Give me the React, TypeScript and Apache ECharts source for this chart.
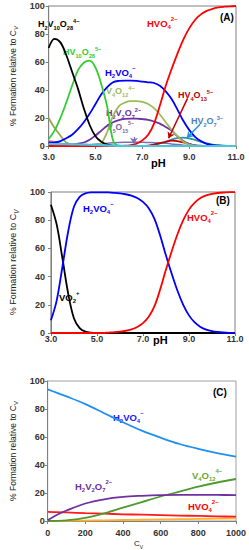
import React, { useEffect, useRef } from "react";
import * as echarts from "echarts";

// pH grid shared by panels A and B (3.0 .. 11.0, step 0.25)
const PH = [3, 3.25, 3.5, 3.75, 4, 4.25, 4.5, 4.75, 5, 5.25, 5.5, 5.75, 6, 6.25, 6.5, 6.75, 7, 7.25, 7.5, 7.75, 8, 8.25, 8.5, 8.75, 9, 9.25, 9.5, 9.75, 10, 10.25, 10.5, 10.75, 11];
const PH_TICKS = [3, 5, 7, 9, 11];

// Panel A
const A_H2V10O28 = [70, 76.5, 74, 65, 53, 41, 27, 15, 7, 3, 1, 0.2, 0, 0, 0, 0, 0, 0, 0, 0, 0, 0, 0, 0, 0, 0, 0, 0, 0, 0, 0, 0, 0];
const A_HV10O28 = [5, 11, 20, 31, 43, 54, 59.5, 61, 56, 44, 28, 4, 0.3, 0, 0, 0, 0, 0, 0, 0, 0, 0, 0, 0, 0, 0, 0, 0, 0, 0, 0, 0, 0];
const A_H2VO4 = [2, 2.5, 3.5, 5.5, 8, 12, 17, 23, 30, 37, 42, 45.5, 46.5, 46.7, 46.7, 46.5, 46, 45.5, 45, 43, 39, 33.5, 26, 18, 11.5, 6.5, 3.5, 1.5, 0.6, 0.2, 0, 0, 0];
const A_HVO4 = [0, 0, 0, 0, 0, 0, 0, 0, 0, 0, 0, 0, 0, 0.2, 0.7, 1.6, 4, 8, 16, 29, 43, 55, 66, 76, 84, 90, 94, 96.5, 98, 99, 99.5, 99.8, 100];
const A_H3V10O28 = [20, 13, 7.5, 2.5, 0.8, 0.2, 0, 0, 0, 0, 0, 0, 0, 0, 0, 0, 0, 0, 0, 0, 0, 0, 0, 0, 0, 0, 0, 0, 0, 0, 0, 0, 0];
const A_V4O12 = [0, 0, 0, 0, 0, 0, 0, 0, 0.3, 2, 10, 21.5, 28.5, 31, 32, 32, 31.5, 30, 27, 22.5, 17, 11.5, 7, 3, 1, 0.3, 0, 0, 0, 0, 0, 0, 0];
const A_H2V2O7 = [3, 2, 1.5, 1.2, 1.2, 1.6, 2.5, 4.5, 7.5, 11, 14.5, 17, 18.5, 19.3, 19.5, 19.5, 19.2, 18.7, 17.5, 16, 13.5, 11, 7, 3.5, 1.5, 0.5, 0, 0, 0, 0, 0, 0, 0];
const A_V5O15 = [0, 0, 0, 0, 0.1, 0.2, 0.4, 0.8, 1.2, 1.6, 2, 2.3, 2.5, 2.6, 2.6, 2.6, 2.6, 2.5, 2.4, 2.2, 1.9, 1.5, 1, 0.6, 0.3, 0.1, 0, 0, 0, 0, 0, 0, 0];
const A_HV4O13 = [0, 0, 0, 0, 0, 0, 0, 0, 0, 0, 0, 0, 0, 0, 0, 0, 0, 0.3, 1, 2, 3, 3.8, 3.5, 2.5, 1.3, 0.5, 0.2, 0, 0, 0, 0, 0, 0];
const A_HV2O7 = [0, 0, 0, 0, 0, 0, 0, 0, 0, 0, 0, 0, 0, 0, 0, 0, 0, 0, 0.8, 1.8, 3, 4.5, 5.6, 6, 5.5, 4.3, 3, 1.8, 1, 0.6, 0.3, 0.1, 0];
const A_PINK = [4, 3, 2, 1.2, 0.6, 0.3, 0.1, 0, 0, 0, 0, 0, 0, 0, 0, 0, 0, 0, 0, 0, 0, 0, 0, 0, 0, 0, 0, 0, 0, 0, 0, 0, 0];
const A_CYAN = [1.5, 1.4, 1.3, 1.25, 1.2, 1.1, 1, 0.9, 0.8, 0.6, 0.4, 0.2, 0.1, 0, 0, 0, 0, 0, 0, 0, 0, 0, 0, 0, 0, 0, 0, 0, 0, 0, 0, 0, 0];

// Panel B
const B_VO2 = [91, 77, 53, 28, 10.5, 3.5, 1, 0.2, 0, 0, 0, 0, 0, 0, 0, 0, 0, 0, 0, 0, 0, 0, 0, 0, 0, 0, 0, 0, 0, 0, 0, 0, 0];
const B_H2VO4 = [9, 23, 47, 72, 89.5, 96.5, 99, 99.7, 99.8, 99.8, 99.7, 99.4, 99, 98.4, 97.4, 95.7, 93, 88.5, 81, 69, 55, 42, 30, 20, 12.5, 7.5, 4.3, 2.4, 1.3, 0.7, 0.35, 0.15, 0.05];
const B_HVO4 = [0, 0, 0, 0, 0, 0, 0, 0, 0, 0, 0.3, 0.6, 1, 1.6, 2.6, 4.3, 7, 11.5, 19, 31, 45, 58, 70, 80, 87.5, 92.5, 95.7, 97.6, 98.7, 99.3, 99.65, 99.85, 99.95];

// Panel C
const CV = [0, 50, 100, 200, 300, 400, 500, 600, 700, 800, 900, 1000];
const C_H2VO4 = [94, 91.5, 89, 83.5, 77, 70.5, 64.5, 59.5, 55, 51.5, 48.5, 46];
const C_H2V2O7 = [0.5, 4.5, 7.5, 12.5, 15.5, 17.2, 18, 18.5, 18.7, 18.7, 18.6, 18.5];
const C_V4O12 = [0, 0.1, 0.5, 2.3, 5.5, 9.5, 13.5, 17.5, 21, 24.5, 27.5, 30];
const C_HVO4 = [6.5, 6.3, 6.1, 5.6, 5.2, 4.8, 4.5, 4.2, 3.9, 3.6, 3.3, 3.1];
const C_OTHER = [0, 0.1, 0.15, 0.3, 0.5, 0.7, 0.9, 1.1, 1.3, 1.5, 1.7, 1.9];

const FONT = "'Liberation Sans', Arial, sans-serif";

function chem(f: string): string {
  let out = "";
  let buf = "";
  let i = 0;
  const flush = () => {
    if (buf) {
      out += `{n|${buf}}`;
      buf = "";
    }
  };
  while (i < f.length) {
    const c = f[i];
    if ((c === "_" || c === "^") && f[i + 1] === "{") {
      flush();
      const end = f.indexOf("}", i);
      out += `{${c === "_" ? "s" : "p"}|${f.slice(i + 2, end)}}`;
      i = end + 1;
    } else {
      buf += c;
      i++;
    }
  }
  flush();
  return out;
}

function richFor(color: string, size: number, weight: string = "bold") {
  const sub = Math.round(size * 0.62 * 10) / 10;
  return {
    n: { fontSize: size, fontWeight: weight, fontFamily: FONT, fill: color, color, lineHeight: size + 4 },
    s: { fontSize: sub, fontWeight: weight, fontFamily: FONT, fill: color, color, verticalAlign: "bottom" },
    p: { fontSize: sub, fontWeight: weight, fontFamily: FONT, fill: color, color, verticalAlign: "top" },
  };
}

function label(x: number, y: number, formula: string, color: string, size = 9, weight = "bold") {
  return {
    type: "text",
    x,
    y,
    silent: true,
    style: {
      text: chem(formula),
      rich: richFor(color, size, weight),
      fill: color,
      align: "left",
      verticalAlign: "middle",
    },
  };
}

function plain(x: number, y: number, text: string, size = 10, weight = "bold") {
  return {
    type: "text",
    x,
    y,
    silent: true,
    style: { text, fill: "#000", font: `${weight} ${size}px ${FONT}`, align: "left", verticalAlign: "middle" },
  };
}

const GRAY = "#7f7f7f";

function yAxisFor(gridIndex: number, gap: number, margin: number, nameSize: number, italic: boolean) {
  return {
    type: "value",
    gridIndex,
    min: 0,
    max: 100,
    interval: 20,
    name: `{a|% Formation relative to C}{v|V}`,
    nameLocation: "middle",
    nameRotate: 90,
    nameGap: gap,
    nameTextStyle: {
      rich: {
        a: { fontSize: nameSize, fontFamily: FONT, color: "#222", lineHeight: nameSize + 4 },
        v: { fontSize: nameSize * 0.7, fontFamily: FONT, color: "#222", fontStyle: italic ? "italic" : "normal", verticalAlign: "bottom" },
      },
    },
    axisLine: { show: true, lineStyle: { color: GRAY, width: 1 } },
    axisTick: { show: true, length: 3, lineStyle: { color: GRAY } },
    axisLabel: { fontSize: 9, fontWeight: "bold", fontFamily: FONT, color: "#333", margin },
    splitLine: { show: false },
  };
}

function phAxis(gridIndex: number, margin: number) {
  return {
    type: "value",
    gridIndex,
    min: 0,
    max: PH_TICKS[PH_TICKS.length - 1] - PH_TICKS[0],
    interval: PH_TICKS[1] - PH_TICKS[0],
    axisLine: { show: true, onZero: false, lineStyle: { color: GRAY, width: 1 } },
    axisTick: { show: true, length: 3, lineStyle: { color: GRAY } },
    axisLabel: {
      fontSize: 9,
      fontWeight: "bold",
      fontFamily: FONT,
      color: "#333",
      margin,
      formatter: (v: number) => (v + PH_TICKS[0]).toFixed(1),
    },
    splitLine: { show: false },
  };
}

function phSeries(idx: number, values: number[], color: string, width = 1.8, extra: any = {}) {
  return {
    type: "line",
    xAxisIndex: idx,
    yAxisIndex: idx,
    data: PH.map((p, i) => [p - PH[0], values[i]]),
    showSymbol: false,
    smooth: 0.35,
    lineStyle: { color, width },
    itemStyle: { color },
    silent: true,
    ...extra,
  };
}

function cvSeries(values: number[], color: string, width = 1.8) {
  return {
    type: "line",
    xAxisIndex: 2,
    yAxisIndex: 2,
    data: CV.map((c, i) => [c, values[i]]),
    showSymbol: false,
    smooth: 0.35,
    lineStyle: { color, width },
    itemStyle: { color },
    silent: true,
  };
}

export default function App() {
  const ref = useRef<HTMLDivElement>(null);

  useEffect(() => {
    document.body.style.margin = "0";
    if (!ref.current) return;
    const chart = echarts.init(ref.current, undefined, { renderer: "svg" });

    const arrowSeries = {
      ...phSeries(0, A_HV4O13, "#c00000"),
      markLine: {
        silent: true,
        animation: false,
        symbol: ["none", "arrow"],
        symbolSize: 6,
        label: { show: false },
        data: [
          [{ coord: [8.93 - 3, 34], lineStyle: { color: "#c00000", width: 1.5, type: "solid" } }, { coord: [8.12 - 3, 5.5] }],
          [{ coord: [9.47 - 3, 15.6], lineStyle: { color: "#1e9ad6", width: 1.5, type: "solid" } }, { coord: [8.9 - 3, 5.8] }],
          [{ coord: [6.64 - 3, 6.5], lineStyle: { color: "#7f6fb0", width: 1.2, type: "solid" } }, { coord: [6.64 - 3, 1.6] }],
        ],
      },
    };

    const option: any = {
      animation: false,
      backgroundColor: "#fff",
      grid: [
        { left: 29, top: 6, width: 207, height: 140, show: true, borderColor: GRAY, borderWidth: 1, containLabel: false },
        { left: 33, top: 192, width: 202, height: 141, show: true, borderColor: GRAY, borderWidth: 1, containLabel: false },
        { left: 40, top: 381, width: 196, height: 140, show: true, borderColor: "#a0a0a0", borderWidth: 1, containLabel: false },
      ],
      xAxis: [
        phAxis(0, 6),
        phAxis(1, 1),
        {
          type: "value",
          gridIndex: 2,
          min: 0,
          max: 1000,
          interval: 200,
          axisLine: { show: true, onZero: false, lineStyle: { color: GRAY, width: 1 } },
          axisTick: { show: true, length: 3, lineStyle: { color: GRAY } },
          axisLabel: { fontSize: 9, fontWeight: "bold", fontFamily: FONT, color: "#333", margin: 7, formatter: (v: number) => String(v) },
          splitLine: { show: false },
        },
      ],
      yAxis: [yAxisFor(0, 17, 4, 8.5, true), yAxisFor(1, 21, 6, 9, true), yAxisFor(2, 22, 3, 8.5, false)],
      series: [
        phSeries(0, A_PINK, "#e8909c", 1.5),
        phSeries(0, A_H3V10O28, "#98a84a"),
        phSeries(0, A_V5O15, "#7f6fb0", 1.5),
        phSeries(0, A_HV2O7, "#31949c"),
        arrowSeries,
        phSeries(0, A_H2V2O7, "#7030a0"),
        phSeries(0, A_V4O12, "#9bbb59"),
        phSeries(0, A_H2VO4, "#0000ff"),
        phSeries(0, A_HV10O28, "#33cc33"),
        phSeries(0, A_H2V10O28, "#000000"),
        phSeries(0, A_HVO4, "#ff0000"),
        phSeries(0, A_CYAN, "#4bc3dd", 2.2),

        phSeries(1, B_VO2, "#000000"),
        phSeries(1, B_H2VO4, "#0000ff"),
        phSeries(1, B_HVO4, "#ff0000"),

        cvSeries(C_OTHER, "#ffb030"),
        cvSeries(C_HVO4, "#ff1a1a"),
        cvSeries(C_V4O12, "#4f9a30"),
        cvSeries(C_H2V2O7, "#7030a0"),
        cvSeries(C_H2VO4, "#1f8ff0"),
      ],
      graphic: [
        // Panel A
        label(38, 24, "H_{2}V_{10}O_{28}^{4−}", "#000000"),
        label(63, 52, "HV_{10}O_{28}^{5−}", "#33cc33"),
        label(105, 72, "H_{2}VO_{4}^{−}", "#0000ff", 9.5),
        label(106, 91, "V_{4}O_{12}^{4−}", "#9bbb59"),
        label(106, 113, "H_{2}V_{2}O_{7}^{2−}", "#7030a0"),
        label(107, 127, "V_{5}O_{15}^{5−}", "#8064a2", 8.5),
        label(147, 23, "HVO_{4}^{2−}", "#ff0000", 9.5),
        label(178, 95, "HV_{4}O_{13}^{5−}", "#c00000"),
        label(191, 121, "HV_{2}O_{7}^{3−}", "#4f81bd"),
        plain(220, 17, "(A)", 10),
        plain(151, 163, "pH", 11),
        // Panel B
        label(83, 208, "H_{2}VO_{4}^{−}", "#0000ff", 9.5),
        label(187, 217, "HVO_{4}^{2−}", "#ff0000", 9.5),
        label(59, 297, "VO_{2}^{+}", "#000000", 9.5),
        plain(216, 200, "(B)", 10),
        plain(153, 340, "pH", 11),
        // Panel C
        label(113, 417, "H_{2}VO_{4}^{−}", "#1a1aff", 9.5),
        label(192, 475, "V_{4}O_{12}^{4−}", "#66aa33", 9.5),
        label(75, 486, "H_{2}V_{2}O_{7}^{2−}", "#7030a0", 9.5),
        label(188, 506, "HVO_{4}^{2−}", "#ff0000", 9.5),
        plain(213, 392, "(C)", 10),
        label(134, 543, "C_{V}", "#222222", 8, "normal"),
      ],
    };

    chart.setOption(option);
    return () => {
      chart.dispose();
    };
  }, []);

  return <div ref={ref} style={{ width: 249, height: 550 }} />;
}
